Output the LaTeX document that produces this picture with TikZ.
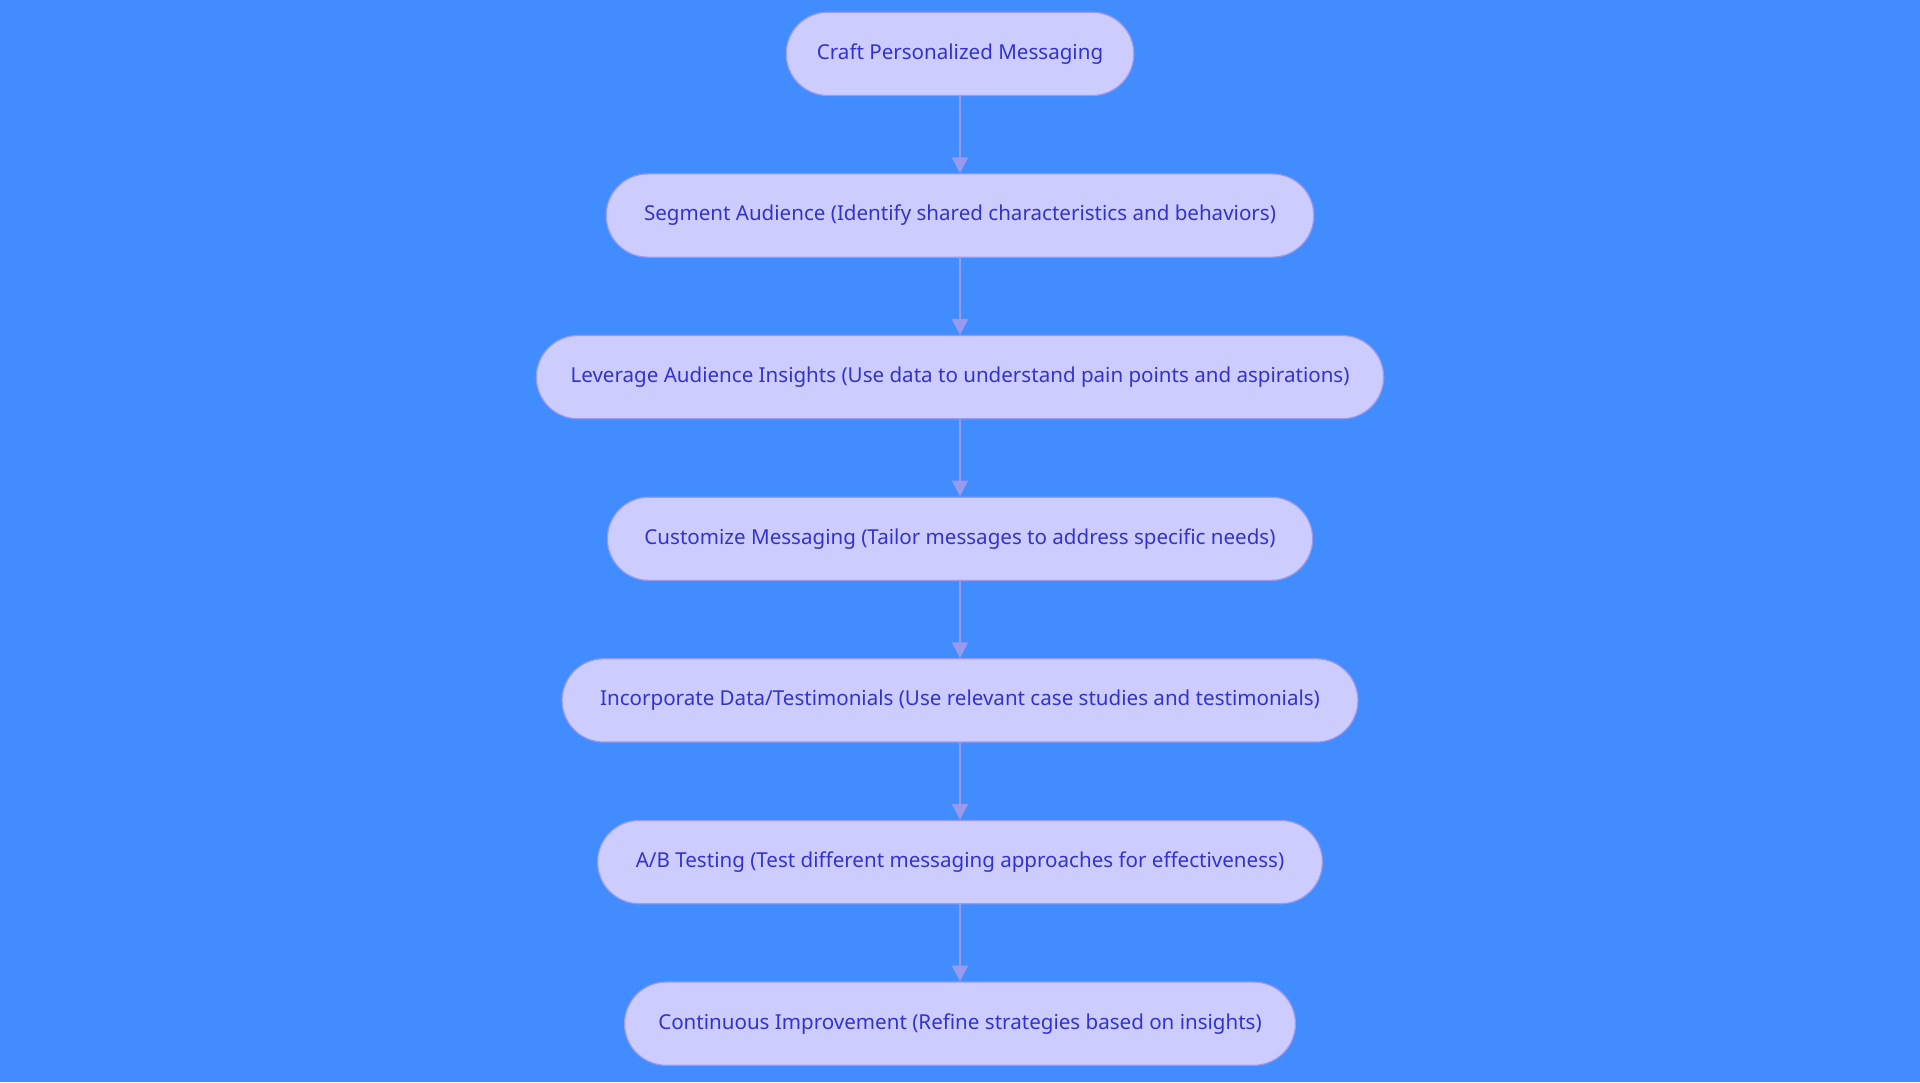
\documentclass[tikz,border=0pt]{standalone}
\usepackage{fontspec}
\setmainfont{Noto Sans}
\usetikzlibrary{positioning,arrows.meta}
\definecolor{bgblue}{HTML}{418CFF}
\definecolor{stepfill}{HTML}{CCCCFF}
\definecolor{stepline}{HTML}{9999EE}
\definecolor{steptext}{HTML}{3333CC}
\tikzset{
  stage/.style={draw=stepline, line width=1pt, fill=stepfill, text=steptext,
    rounded corners=34pt, minimum height=68pt, inner xsep=0pt,
    font=\fontsize{16.8}{21}\selectfont},
  flow/.style={draw=stepline, line width=2pt, -{Triangle[length=13pt,width=13pt]}}
}
\begin{document}
\begin{tikzpicture}[x=1pt,y=-1pt]
\fill[bgblue] (0,0) rectangle (1568,884);
\useasboundingbox (0,0) rectangle (1568,884);
% steps of the flow
\node[stage, minimum width=284pt] (craft) at (784,44) {Craft Personalized Messaging};
\node[stage, minimum width=578pt] (segment) at (784,176) {Segment Audience (Identify shared characteristics and behaviors)};
\node[stage, minimum width=692pt] (leverage) at (784,308) {Leverage Audience Insights (Use data to understand pain points and aspirations)};
\node[stage, minimum width=576pt] (customize) at (784,440) {Customize Messaging (Tailor messages to address specific needs)};
\node[stage, minimum width=650pt] (incorporate) at (784,572) {Incorporate Data/Testimonials (Use relevant case studies and testimonials)};
\node[stage, minimum width=592pt] (abtest) at (784,704) {A/B Testing (Test different messaging approaches for effectiveness)};
\node[stage, minimum width=548pt] (improve) at (784,836) {Continuous Improvement (Refine strategies based on insights)};
% arrows
\foreach \a/\b in {craft/segment,segment/leverage,leverage/customize,customize/incorporate,incorporate/abtest,abtest/improve}
  \draw[flow] (\a) -- (\b);
\end{tikzpicture}
\end{document}
